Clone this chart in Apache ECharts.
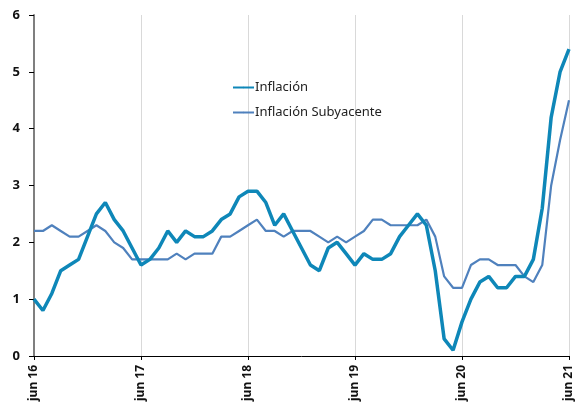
<!DOCTYPE html>
<html>
<head>
<meta charset="utf-8">
<script src="https://cdn.jsdelivr.net/npm/echarts@6/dist/echarts.min.js"></script>
<style>
  html, body { margin: 0; padding: 0; background: #fff; }
  #chart { width: 576px; height: 404px; }
</style>
</head>
<body>
<div id="chart"></div>
<script>
// meses jun 16 .. jun 21
const monthNames = ['ene', 'feb', 'mar', 'abr', 'may', 'jun', 'jul', 'ago', 'sep', 'oct', 'nov', 'dic'];
const years = [16, 17, 18, 19, 20, 21];

const inflacion = [
  1.0, 0.8, 1.1, 1.5, 1.6, 1.7, 2.1, 2.5, 2.7, 2.4, 2.2, 1.9,
  1.6, 1.7, 1.9, 2.2, 2.0, 2.2, 2.1, 2.1, 2.2, 2.4, 2.5, 2.8,
  2.9, 2.9, 2.7, 2.3, 2.5, 2.2, 1.9, 1.6, 1.5, 1.9, 2.0, 1.8,
  1.6, 1.8, 1.7, 1.7, 1.8, 2.1, 2.3, 2.5, 2.3, 1.5, 0.3, 0.1,
  0.6, 1.0, 1.3, 1.4, 1.2, 1.2, 1.4, 1.4, 1.7, 2.6, 4.2, 5.0,
  5.4
];
const subyacente = [
  2.2, 2.2, 2.3, 2.2, 2.1, 2.1, 2.2, 2.3, 2.2, 2.0, 1.9, 1.7,
  1.7, 1.7, 1.7, 1.7, 1.8, 1.7, 1.8, 1.8, 1.8, 2.1, 2.1, 2.2,
  2.3, 2.4, 2.2, 2.2, 2.1, 2.2, 2.2, 2.2, 2.1, 2.0, 2.1, 2.0,
  2.1, 2.2, 2.4, 2.4, 2.3, 2.3, 2.3, 2.3, 2.4, 2.1, 1.4, 1.2,
  1.2, 1.6, 1.7, 1.7, 1.6, 1.6, 1.6, 1.4, 1.3, 1.6, 3.0, 3.8,
  4.5
];

// etiquetas de categoria
const categories = [];
for (let i = 0; i < inflacion.length; i++) {
  const m = (5 + i) % 12;
  const y = years[0] + Math.floor((5 + i) / 12);
  categories.push(monthNames[m] + ' ' + y);
}

const font = '"Noto Sans", "DejaVu Sans", sans-serif';
const chart = echarts.init(document.getElementById('chart'));

const option = {
  animation: false,
  textStyle: { fontFamily: font },
  grid: { left: 34, right: 7, top: 15, bottom: 47 },
  legend: {
    orient: 'vertical',
    left: 227,
    top: 74,
    itemWidth: 21,
    itemHeight: 2,   // casi oculta el circulo del icono
    itemGap: 8,
    textStyle: { fontSize: 13, color: '#222', fontFamily: font, padding: [0, 0, 0, -4], lineHeight: 17 },
    data: ['Inflación', 'Inflación Subyacente']
  },
  xAxis: {
    type: 'category',
    data: categories,
    boundaryGap: false,
    axisLine: { lineStyle: { color: '#000', width: 1 } },
    axisTick: { show: true, interval: 11, length: 4, lineStyle: { color: '#000' } },
    axisLabel: {
      interval: 11,
      rotate: 90,
      fontSize: 12,
      fontWeight: 'bold',
      color: '#111',
      margin: 9,
      fontFamily: font
    },
    splitLine: { show: true, interval: 11, lineStyle: { color: '#d9d9d9', width: 1 } }
  },
  yAxis: {
    type: 'value',
    min: 0,
    max: 6,
    interval: 1,
    axisLine: { show: true, lineStyle: { color: '#7f7f7f', width: 2 } },
    axisTick: { show: true, length: 5, lineStyle: { color: '#000' } },
    axisLabel: { fontSize: 13, fontWeight: 'bold', color: '#111', margin: 14, fontFamily: font },
    splitLine: { show: false }
  },
  series: [
    {
      name: 'Inflación',
      type: 'line',
      data: inflacion,
      symbol: 'none',
      lineStyle: { color: '#0e87b8', width: 3.5 },
      itemStyle: { color: '#0e87b8' },
      z: 3
    },
    {
      name: 'Inflación Subyacente',
      type: 'line',
      data: subyacente,
      symbol: 'none',
      lineStyle: { color: '#4f81bd', width: 2.2 },
      itemStyle: { color: '#4f81bd' },
      z: 2
    }
  ]
};

chart.setOption(option);
</script>
</body>
</html>
